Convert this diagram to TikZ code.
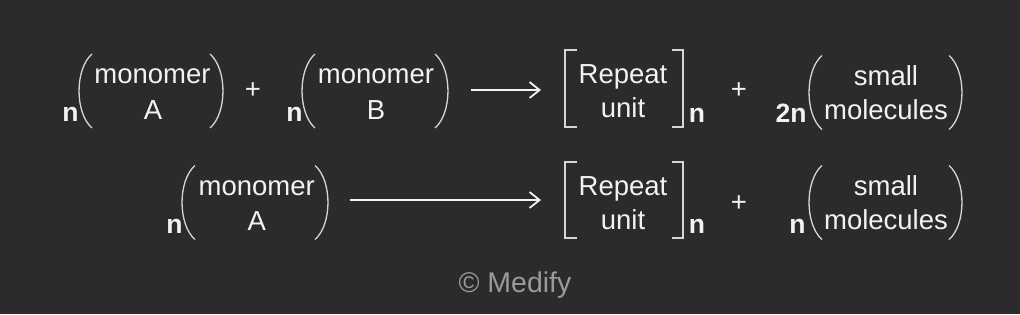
\documentclass[tikz,border=0pt]{standalone}
\usepackage{fontspec}
\setmainfont{Liberation Sans}
\usetikzlibrary{calc,positioning,arrows.meta}

\definecolor{bgdark}{HTML}{2B2B2D}
\definecolor{ink}{HTML}{F2F2F2}
\definecolor{delimgray}{HTML}{D6D6D6}
\definecolor{markgray}{HTML}{9A9A9A}

\tikzset{
	word/.style={text=ink, inner sep=0pt, anchor=base, font=\fontsize{27.5}{33}\selectfont},
	coef/.style={text=ink, inner sep=0pt, anchor=base, font=\fontsize{26.5}{31}\selectfont\bfseries},
	delim/.style={draw=delimgray, line width=1.3pt},
	yields/.style={-{Straight Barb[length=10pt,width=16pt]}, draw=ink, line width=1.8pt},
	lpar/.pic={\draw[delim] (13,-37) .. controls (-4.3,-22) and (-4.3,22) .. (13,37);},
	rpar/.pic={\draw[delim] (-13,-37) .. controls (4.3,-22) and (4.3,22) .. (-13,37);},
}

\begin{document}
\begin{tikzpicture}[x=1pt, y=-1pt]
	\fill[bgdark] (0,0) rectangle (1020,314);
	\useasboundingbox (0,0) rectangle (1020,314);

	% first row: n A + n B -> [unit]n + 2n small
	\node[coef] (nA) at (70.5,121) {n};
	\pic at (79,91) {lpar};
	\node[word] (monA) at (152.5,83) {monomer};
	\node[word] (symA) at (153,119) {A};
	\pic at (223,91) {rpar};
	\node[word] (plusA) at (253,98.5) {+};
	\node[coef] (nB) at (294.5,121) {n};
	\pic at (302,91) {lpar};
	\node[word] (monB) at (376,83) {monomer};
	\node[word] (symB) at (376,119) {B};
	\pic at (448,91) {rpar};
	\coordinate (arrAs) at (471,90);
	\coordinate (arrAe) at (541,90);
	\draw[yields] (arrAs) -- (arrAe);
	\draw[delim] (577,50) -- (565,50) -- (565,127) -- (577,127);
	\node[word] (repA) at (623,83) {Repeat};
	\node[word] (unitA) at (623,117) {unit};
	\draw[delim] (672,50) -- (683,50) -- (683,127) -- (672,127);
	\node[coef] (subA) at (697,122) {n};
	\node[word] (plusB) at (739,98.5) {+};
	\node[coef] (twon) at (791,122.5) {2n};
	\pic at (809,92.5) {lpar};
	\node[word] (smallA) at (886,85) {small};
	\node[word] (molA) at (886,119) {molecules};
	\pic at (962,92.5) {rpar};

	% second row: n A -> [unit]n + n small
	\node[coef] (nC) at (174.5,233) {n};
	\pic at (182,202.5) {lpar};
	\node[word] (monC) at (256.7,195) {monomer};
	\node[word] (symC) at (256.7,230) {A};
	\pic at (328,202.5) {rpar};
	\coordinate (arrBs) at (350,200);
	\coordinate (arrBe) at (541,200);
	\draw[yields] (arrBs) -- (arrBe);
	\draw[delim] (577,162) -- (565,162) -- (565,238) -- (577,238);
	\node[word] (repB) at (623,195) {Repeat};
	\node[word] (unitB) at (623,229) {unit};
	\draw[delim] (672,162) -- (683,162) -- (683,238) -- (672,238);
	\node[coef] (subB) at (697,233) {n};
	\node[word] (plusC) at (739,211) {+};
	\node[coef] (nD) at (797.5,233) {n};
	\pic at (809,202.5) {lpar};
	\node[word] (smallB) at (886,195) {small};
	\node[word] (molB) at (886,229) {molecules};
	\pic at (962,202.5) {rpar};

	\node[word, text=markgray, font=\fontsize{28.5}{34}\selectfont] (mark) at (515,292) {© Medify};
\end{tikzpicture}
\end{document}
